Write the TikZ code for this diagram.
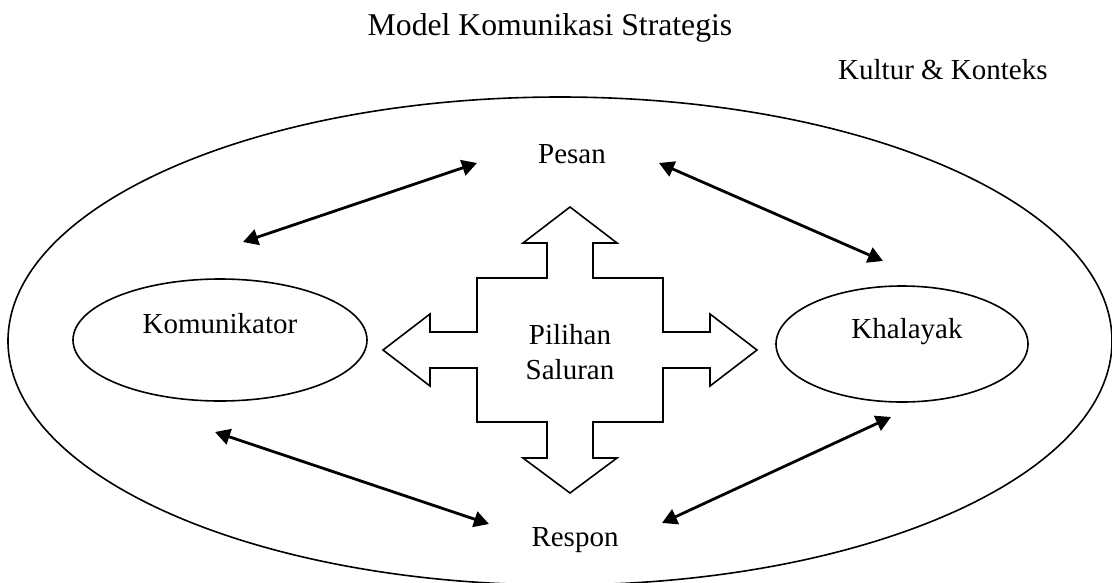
\documentclass[tikz,border=0pt]{standalone}
\usepackage{fontspec}
\setmainfont{Liberation Serif}
\usetikzlibrary{arrows.meta,shapes.geometric}
\tikzset{
  txt/.style={inner sep=0pt, font=\fontsize{29}{35}\selectfont},
  ttl/.style={inner sep=0pt, font=\fontsize{31.7}{38}\selectfont},
  ell/.style={draw, line width=1.6pt, ellipse, inner sep=0pt},
  link/.style={line width=2.8pt, {Triangle[length=15pt,width=16pt]}-{Triangle[length=15pt,width=16pt]}},
  crossarrow/.style={draw, line width=1.6pt, line join=miter}
}
\begin{document}
\begin{tikzpicture}[x=1pt,y=-1pt]
\useasboundingbox (0,0) rectangle (1112,582);
% outer ellipse (Kultur & Konteks)
\node[ell, minimum width=1104pt, minimum height=488pt] (outer) at (560,341) {};
% titles
\node[ttl, anchor=base] (title) at (550,35) {Model Komunikasi Strategis};
\node[txt, anchor=base west] (kultur) at (838,79) {Kultur \& Konteks};
% inner ellipses
\node[ell, minimum width=294pt, minimum height=122pt] (kom) at (220,340) {};
\node[txt, anchor=base] (komt) at (220,333) {Komunikator};
\node[ell, minimum width=252pt, minimum height=116pt] (kha) at (902,344) {};
\node[txt, anchor=base] (khat) at (907,338) {Khalayak};
% labels
\node[txt, anchor=base] (pesan) at (572,163) {Pesan};
\node[txt, anchor=base] (respon) at (575,546) {Respon};
% cross arrow
\coordinate (cc) at (570,350);
\draw[crossarrow] (570,207) -- (617,243) -- (593,243) -- (593,278) -- (663,278) -- (663,332)
  -- (710,332) -- (710,314) -- (757,350) -- (710,386) -- (710,368) -- (663,368) -- (663,422)
  -- (593,422) -- (593,458) -- (617,458) -- (570,493) -- (523,458) -- (547,458) -- (547,422)
  -- (477,422) -- (477,368) -- (430,368) -- (430,386) -- (383,350) -- (430,314) -- (430,332)
  -- (477,332) -- (477,278) -- (547,278) -- (547,243) -- (523,243) -- cycle;
\node[txt, anchor=base] (pil) at (570,344) {Pilihan};
\node[txt, anchor=base] (sal) at (570,379) {Saluran};
% arrow end points
\coordinate (k1) at (243,242);
\coordinate (p1) at (477,163);
\coordinate (p2) at (659,163);
\coordinate (h1) at (883,261);
\coordinate (k2) at (215,432);
\coordinate (r1) at (489,524);
\coordinate (r2) at (662,523);
\coordinate (h2) at (891,417);
\draw[link] (k1) -- (p1);
\draw[link] (p2) -- (h1);
\draw[link] (k2) -- (r1);
\draw[link] (r2) -- (h2);
\end{tikzpicture}
\end{document}
